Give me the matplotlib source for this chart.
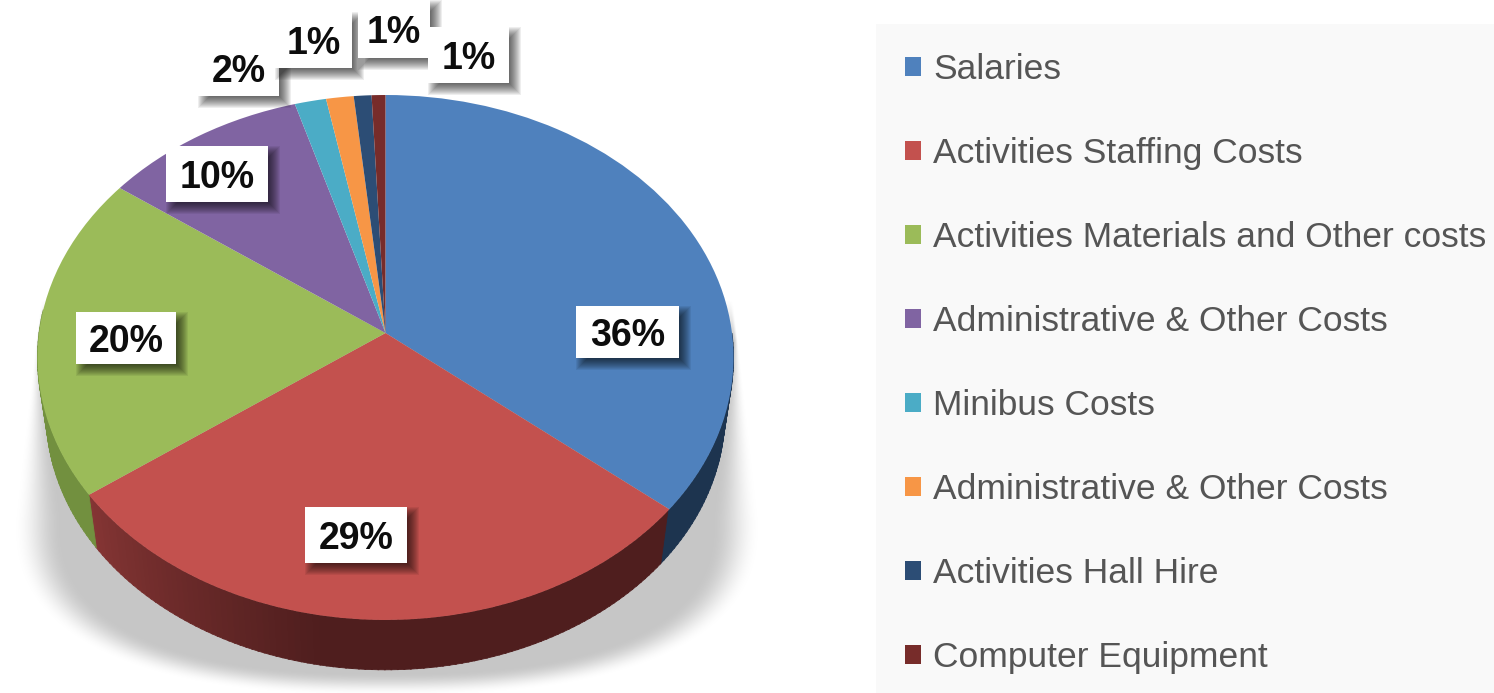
import numpy as np
import matplotlib
matplotlib.use('Agg')
import matplotlib.pyplot as plt
from matplotlib.patches import Rectangle
from matplotlib.transforms import Transform

categories = ['Salaries', 'Activities Staffing Costs', 'Activities Materials and Other costs',
              'Administrative & Other Costs', 'Minibus Costs', 'Administrative & Other Costs',
              'Activities Hall Hire', 'Computer Equipment']
valores = [36, 29, 20, 10.4, 1.6, 1.4, 0.9, 0.7]
colores = ['#4f81bd', '#c3514e', '#9bbb59', '#8064a2', '#4bacc6', '#f79646', '#2c4d75', '#772c2a']

# cajas de las etiquetas en pixeles: x0, y0, x1, y1
cajas = [(576, 306, 679, 358), (305, 507, 407, 563), (76, 312, 176, 364), (166, 146, 268, 202),
         (198, 40, 279, 96), (275, 12, 352, 68), (358, 0, 430, 58), (428, 27, 509, 83)]

CX, CY = 385.5, 333
A, B, K = 346.5, 260.2, 0.0933


def proyectar(u, v, escala=1.0, dy=0.0):
    w = 1 + K * v
    return CX + escala * A * u / w, CY - escala * B * v / w + dy


class Perspectiva(Transform):
    """ Lleva el circulo unidad al disco visto en perspectiva """
    input_dims = 2
    output_dims = 2

    def transform_non_affine(self, values):
        x, y = proyectar(values[:, 0], values[:, 1])
        return np.column_stack([x, y])


fig = plt.figure(figsize=(14.94, 6.93), dpi=100)
ax = fig.add_axes([0, 0, 1, 1])

# sombra difusa bajo la tarta
yy, xx = np.mgrid[0:693, 0:860]
dx = np.abs(xx - 386.5)
ancho = 351 + 0.12 * (yy - 340)
d_arriba = ancho - dx
r = ((dx / 373) ** 2.5 + (np.abs(yy - 520) / 175) ** 2.5) ** (1 / 2.5)
d_abajo = (1 - r) * 373
dist = np.where(yy < 520, d_arriba, d_abajo)
fade = np.clip(4 + (yy - 340) * 0.245, 4, 48)
alfa = np.clip(dist / fade, 0, 1)
alfa = alfa * alfa * (3 - 2 * alfa)
alfa = alfa * np.clip((yy - 300) / 45, 0, 1)
sombra = np.zeros(alfa.shape + (4,))
sombra[..., :3] = 0.78
sombra[..., 3] = alfa
ax.imshow(sombra, extent=(0, 860, 693, 0), interpolation='bilinear', zorder=1)

# pared lateral, por tiras
angulos = 360 * np.cumsum([0] + valores) / sum(valores)
def color_pared(t):
    if t < angulos[1]:
        return '#1d344f'
    if t < angulos[2]:
        f = np.clip((t - 190) / (angulos[2] - 190), 0, 1)
        return (0.31 + 0.21 * f, 0.118 + 0.09 * f, 0.118 + 0.085 * f)
    return '#72903f'

for t in np.arange(90, 275, 1.0):
    ts = np.radians([t, t + 1.2])
    u, v = np.sin(ts), np.cos(ts)
    x1, y1 = proyectar(u, v)
    x2, y2 = proyectar(u, v, 0.975, 57)
    c = color_pared(t + 0.5)
    ax.fill([x1[0], x1[1], x2[1], x2[0]], [y1[0], y1[1], y2[1], y2[0]], color=c, lw=0.6, zorder=2)

cuñas, _ = ax.pie(valores, colors=colores, startangle=90, counterclock=False, radius=1)
persp = Perspectiva()
for w in cuñas:
    w.set_transform(persp + ax.transData)
    w.set_zorder(3)
    w.set_linewidth(0)

ax.set_aspect('auto')
ax.set_xlim(0, 1494)
ax.set_ylim(693, 0)
ax.axis('off')

# etiquetas con caja blanca y sombra suave
for v, (x0, y0, x1, y1) in zip(valores, cajas):
    for i in range(-5, 7):
        ax.add_patch(Rectangle((x0 + 6 - i, y0 + 6 - i), x1 - x0 + 2 * i, y1 - y0 + 2 * i,
                               fc='black', ec='none', alpha=0.065, zorder=4))
    ax.add_patch(Rectangle((x0, y0), x1 - x0, y1 - y0, fc='white', ec='none', zorder=4))
    ax.text((x0 + x1) / 2, (y0 + y1) / 2 + 4, f'{v:.0f}%', ha='center', va='center', zorder=5,
            fontsize=27, fontweight='bold', family='Liberation Sans', color='#0d0d0d')

# leyenda
ax.add_patch(Rectangle((876, 24), 618, 669, fc='#f9f9f9', ec='none', zorder=0))
tam = 25.5
pt = 100 / 72
leg = ax.legend(cuñas, categories, loc='upper left', bbox_to_anchor=(905, 53), bbox_transform=ax.transData,
                frameon=False, borderpad=0, borderaxespad=0, handlelength=16 / (tam * pt), handleheight=16 / (tam * pt),
                handletextpad=12 / (tam * pt), labelspacing=(84 - 33) / (tam * pt),
                prop={'family': 'Liberation Sans', 'size': tam}, labelcolor='#555555')

fig.savefig('out.png', dpi=100)
